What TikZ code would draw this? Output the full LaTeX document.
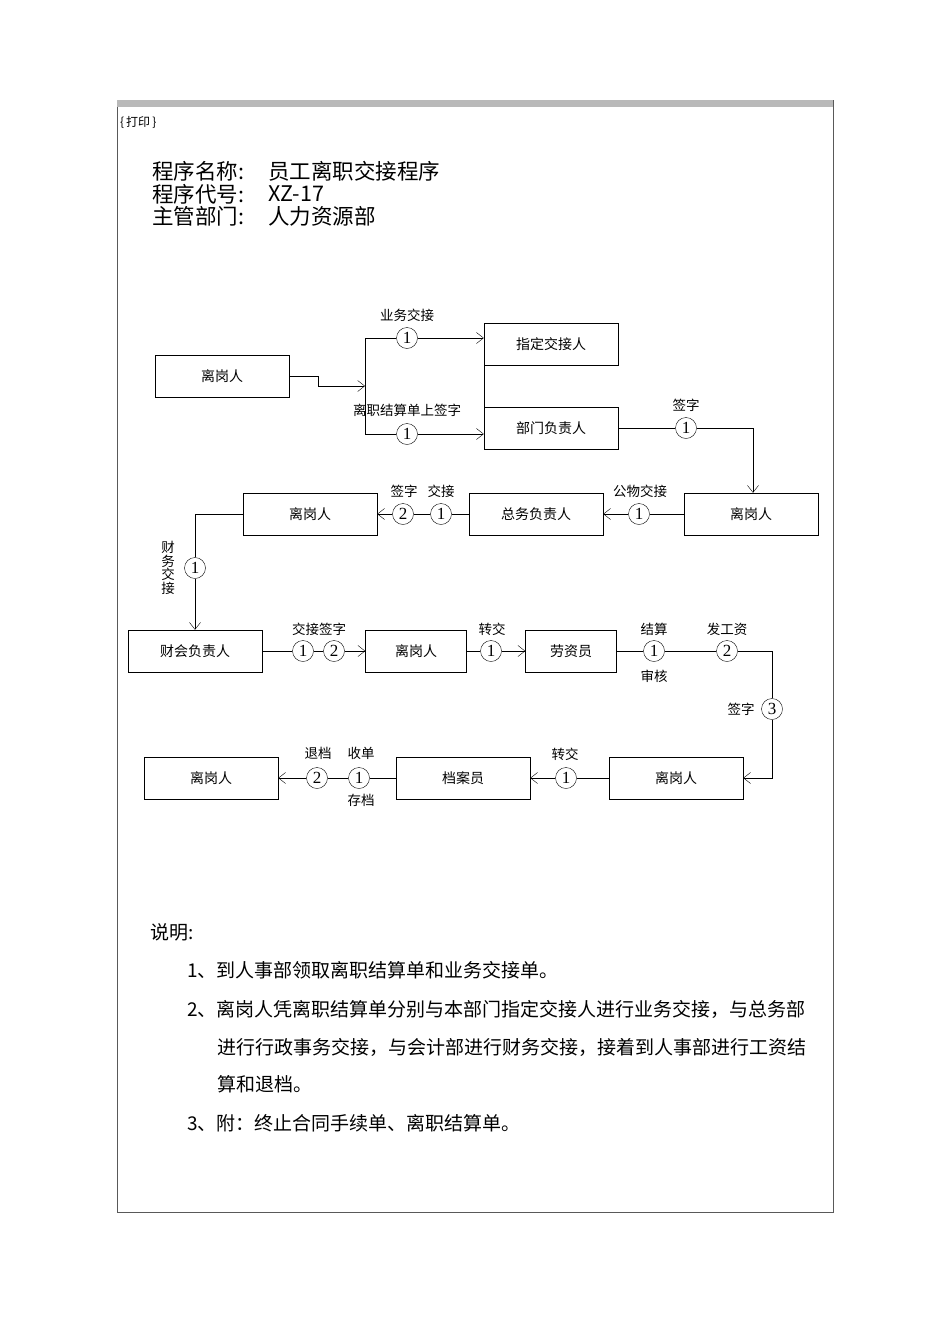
\documentclass[tikz,border=0pt]{standalone}
\usepackage{fontspec}
\setmainfont{Noto Sans CJK SC}
\newfontfamily\numfont{Liberation Serif}
\usetikzlibrary{arrows.meta,positioning}

\begin{document}
\begin{tikzpicture}[x=1pt,y=-1pt,
  >={Straight Barb[length=7pt,width=11pt]},
  box/.style={draw,minimum width=134pt,minimum height=42pt,inner sep=0pt,font=\fontsize{14}{14}\selectfont},
  num/.style={draw,circle,minimum size=21pt,inner sep=0pt,font=\numfont\fontsize{17}{17}\selectfont},
  lbl/.style={inner sep=0pt,font=\fontsize{13.5}{14}\selectfont},
  head/.style={anchor=west,inner sep=0pt,font=\fontsize{21.5}{22}\selectfont},
  txt/.style={anchor=west,inner sep=0pt,font=\fontsize{19}{20}\selectfont}]
                \useasboundingbox (0,0) rectangle (950,1344);
                \fill[white] (0,0) rectangle (950,1344);
                \draw[gray!70!black,line width=0.8pt] (117,100) rectangle (833,1212);
                \fill[gray!55] (117,100) rectangle (833,107);

                \node[anchor=west,inner sep=0pt,font=\fontsize{12}{12}\selectfont] (dy) at (120,122) {\{\,打印\,\}};
                \node[head] (h1) at (152,171) {程序名称:};
                \node[head] (v1) at (268,171) {员工离职交接程序};
                \node[head] (h2) at (152,194) {程序代号:};
                \node[head] (v2) at (268,194) {XZ-17};
                \node[head] (h3) at (152,216) {主管部门:};
                \node[head] (v3) at (268,216) {人力资源部};

                \node[box] (lgA) at (222,376) {离岗人};
                \node[box] (zd) at (551,344) {指定交接人};
                \node[box] (bm) at (551,428) {部门负责人};
                \node[box] (lgB) at (751,514) {离岗人};
                \node[box] (zw) at (536,514) {总务负责人};
                \node[box] (lgC) at (310,514) {离岗人};
                \node[box] (ck) at (195,651) {财会负责人};
                \node[box,minimum width=101pt] (lgD) at (416,651) {离岗人};
                \node[box,minimum width=91pt] (lzy) at (571,651) {劳资员};
                \node[box] (lgE) at (676,778) {离岗人};
                \node[box] (da) at (463,778) {档案员};
                \node[box] (lgF) at (211,778) {离岗人};

                \node[num] (c1) at (407,338) {1};
                \node[num] (c2) at (407,434) {1};
                \node[num] (c3) at (686,428) {1};
                \node[num] (c4) at (639,514) {1};
                \node[num] (c5) at (441,514) {1};
                \node[num] (c6) at (403,514) {2};
                \node[num] (c7) at (195,568) {1};
                \node[num] (c8) at (303,651) {1};
                \node[num] (c9) at (334,651) {2};
                \node[num] (c10) at (491,651) {1};
                \node[num] (c11) at (654,651) {1};
                \node[num] (c12) at (727,651) {2};
                \node[num] (c13) at (772,709) {3};
                \node[num] (c14) at (566,778) {1};
                \node[num] (c15) at (359,778) {1};
                \node[num] (c16) at (317,778) {2};

                \coordinate (s1) at (318,386);
                \coordinate (fk) at (365,386);
                \coordinate (fkT) at (365,338);
                \coordinate (fkB) at (365,434);
                \coordinate (k1) at (753,428);
                \coordinate (k2) at (195,514);
                \coordinate (k3) at (772,651);

                \draw[->] (lgA.east) -| (s1) -- (fk);
                \draw (fkT) -- (fkB);
                \draw (fkT) -- (c1);
                \draw[->] (c1) -- (c1 -| zd.west);
                \draw (fkB) -- (c2);
                \draw[->] (c2) -- (c2 -| bm.west);
                \draw (zd.south west) -- (bm.north west);
                \draw (bm.east) -- (c3) -- (k1);
                \draw[->] (k1) -- (k1 |- lgB.north);
                \draw (lgB.west) -- (c4);
                \draw[->] (c4) -- (zw.east);
                \draw (zw.west) -- (c5) -- (c6);
                \draw[->] (c6) -- (lgC.east);
                \draw (lgC.west) -- (k2) -- (c7);
                \draw[->] (c7) -- (ck.north);
                \draw (ck.east) -- (c8) -- (c9);
                \draw[->] (c9) -- (lgD.west);
                \draw (lgD.east) -- (c10);
                \draw[->] (c10) -- (lzy.west);
                \draw (lzy.east) -- (c11) -- (c12) -- (k3) -- (c13);
                \draw[->] (c13) |- (lgE.east);
                \draw (lgE.west) -- (c14);
                \draw[->] (c14) -- (da.east);
                \draw (da.west) -- (c15) -- (c16);
                \draw[->] (c16) -- (lgF.east);

                \node[lbl] (l1) at (407,315) {业务交接};
                \node[lbl] (l2) at (407,410) {离职结算单上签字};
                \node[lbl] (l3) at (686,405) {签字};
                \node[lbl] (l4) at (640,491) {公物交接};
                \node[lbl] (l5) at (404,491) {签字};
                \node[lbl] (l6) at (441,491) {交接};
                \node[lbl,align=center,font=\fontsize{13.5}{13.5}\selectfont] (l7) at (168,568) {财\\务\\交\\接};
                \node[lbl] (l8) at (319,629) {交接签字};
                \node[lbl] (l9) at (492,629) {转交};
                \node[lbl] (l10) at (654,629) {结算};
                \node[lbl] (l11) at (654,676) {审核};
                \node[lbl] (l12) at (727,629) {发工资};
                \node[lbl] (l13) at (741,709) {签字};
                \node[lbl] (l14) at (565,754) {转交};
                \node[lbl] (l15) at (318,753) {退档};
                \node[lbl] (l16) at (361,753) {收单};
                \node[lbl] (l17) at (361,800) {存档};

                \node[txt] (sm) at (150,932) {说明:};
                \node[txt] (p1) at (187,970) {1、到人事部领取离职结算单和业务交接单。};
                \node[txt] (p2) at (187,1009) {2、离岗人凭离职结算单分别与本部门指定交接人进行业务交接，与总务部};
                \node[txt] (p2b) at (217,1047) {进行行政事务交接，与会计部进行财务交接，接着到人事部进行工资结};
                \node[txt] (p2c) at (217,1084) {算和退档。};
                \node[txt] (p3) at (187,1123) {3、附：终止合同手续单、离职结算单。};
            \end{tikzpicture}
\end{document}
